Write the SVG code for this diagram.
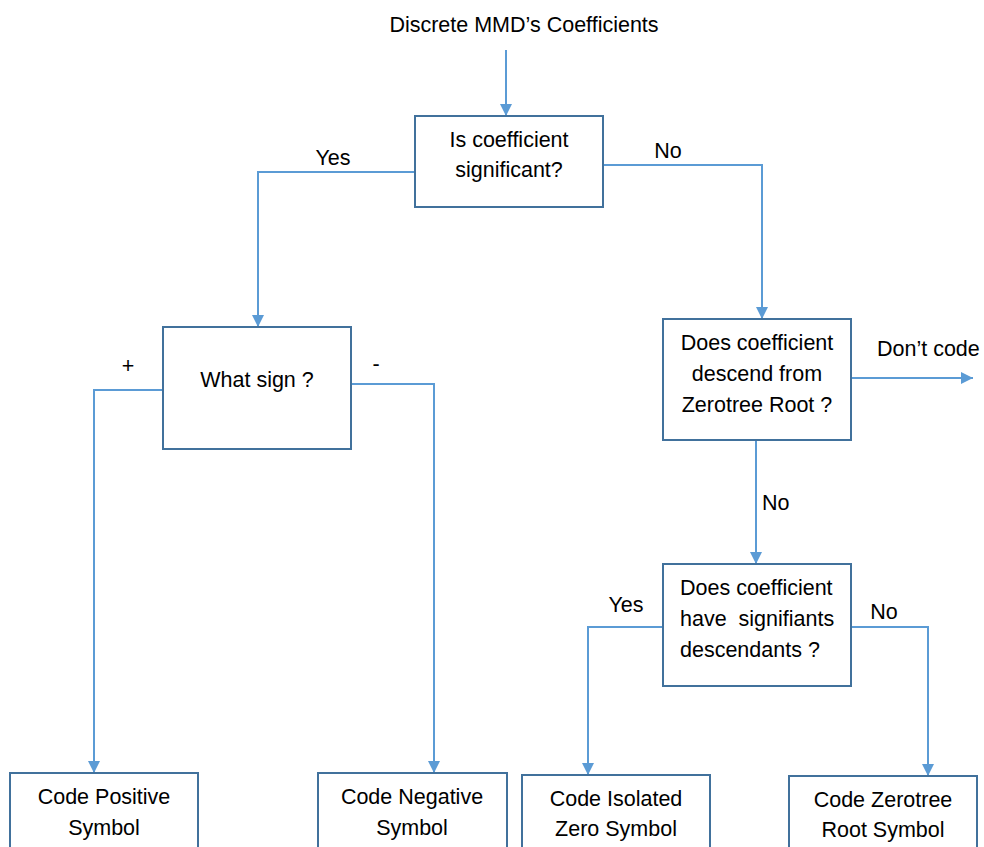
<svg xmlns="http://www.w3.org/2000/svg" width="984" height="847" viewBox="0 0 984 847">
<style>
  .box { fill: #ffffff; stroke: #41719C; stroke-width: 2; }
  .conn { fill: none; stroke: #5B9BD5; stroke-width: 2; }
  text { font-family: "Liberation Sans", Arial, sans-serif; font-size: 21.5px; fill: #000000; }
  .c { text-anchor: middle; }
</style>
<defs>
  <marker id="arr" markerUnits="userSpaceOnUse" markerWidth="14" markerHeight="14" refX="12" refY="6" orient="auto">
    <path d="M0,0 L12,6 L0,12 Z" fill="#5B9BD5"/>
  </marker>
</defs>
<rect width="984" height="847" fill="#ffffff"/>

<g id="connectors">
  <path class="conn" d="M506,50 V116" marker-end="url(#arr)"/>
  <path class="conn" d="M415,172 H258 V327" marker-end="url(#arr)"/>
  <path class="conn" d="M603,165 H762 V319" marker-end="url(#arr)"/>
  <path class="conn" d="M163,390 H94 V773" marker-end="url(#arr)"/>
  <path class="conn" d="M352,384 H434 V773" marker-end="url(#arr)"/>
  <path class="conn" d="M852,378 H973" marker-end="url(#arr)"/>
  <path class="conn" d="M756,440 V564" marker-end="url(#arr)"/>
  <path class="conn" d="M663,627 H588 V775" marker-end="url(#arr)"/>
  <path class="conn" d="M851,627 H928 V776" marker-end="url(#arr)"/>
  <text class="c" x="333" y="165">Yes</text>
  <text class="c" x="668" y="158">No</text>
  <text class="c" x="128" y="373">+</text>
  <text class="c" x="376" y="371">-</text>
  <text x="877" y="356">Don’t code</text>
  <text x="762" y="510">No</text>
  <text class="c" x="626" y="612">Yes</text>
  <text class="c" x="884" y="619">No</text>
</g>

<g id="title">
  <text class="c" x="524" y="32">Discrete MMD’s Coefficients</text>
</g>

<g id="significant">
  <rect class="box" x="415" y="116" width="188" height="91"/>
  <text class="c" x="509" y="147">Is coefficient</text>
  <text class="c" x="509" y="177">significant?</text>
</g>

<g id="sign">
  <rect class="box" x="163" y="327" width="188" height="122"/>
  <text class="c" x="257" y="387">What sign ?</text>
</g>

<g id="zerotree-descend">
  <rect class="box" x="663" y="319" width="188" height="121"/>
  <text class="c" x="757" y="350">Does coefficient</text>
  <text class="c" x="757" y="381">descend from</text>
  <text class="c" x="757" y="412">Zerotree Root ?</text>
</g>

<g id="descendants">
  <rect class="box" x="663" y="564" width="188" height="122"/>
  <text x="680" y="595">Does coefficient</text>
  <text x="680" y="626" xml:space="preserve">have  signifiants</text>
  <text x="680" y="657">descendants ?</text>
</g>

<g id="positive">
  <rect class="box" x="10" y="773" width="188" height="90"/>
  <text class="c" x="104" y="804">Code Positive</text>
  <text class="c" x="104" y="835">Symbol</text>
</g>

<g id="negative">
  <rect class="box" x="318" y="773" width="189" height="90"/>
  <text class="c" x="412" y="804">Code Negative</text>
  <text class="c" x="412" y="835">Symbol</text>
</g>

<g id="isolated">
  <rect class="box" x="522" y="775" width="188" height="90"/>
  <text class="c" x="616" y="806">Code Isolated</text>
  <text class="c" x="616" y="836">Zero Symbol</text>
</g>

<g id="zerotree-root">
  <rect class="box" x="789" y="776" width="188" height="90"/>
  <text class="c" x="883" y="807">Code Zerotree</text>
  <text class="c" x="883" y="837">Root Symbol</text>
</g>
</svg>
